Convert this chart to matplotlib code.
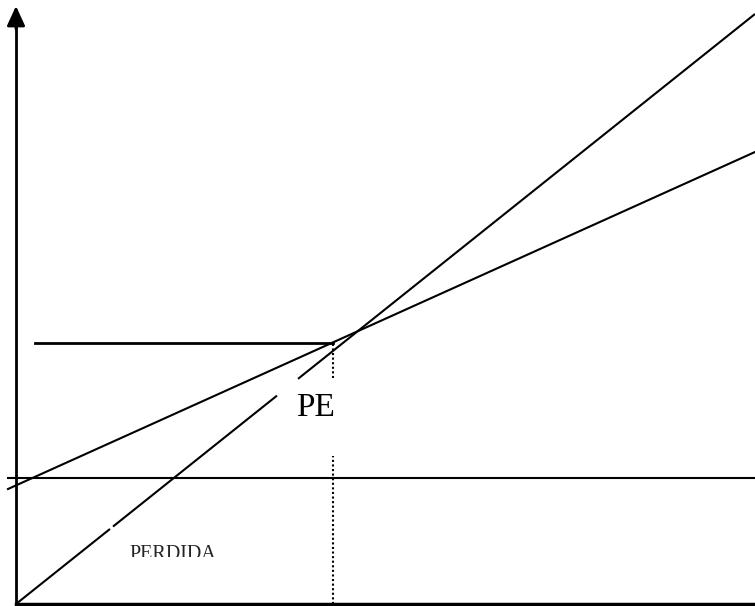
import matplotlib
matplotlib.use("Agg")
import matplotlib.pyplot as plt
from matplotlib.patches import Rectangle

# Diagram coordinates (origin at the axes corner)
revenue_x = [0, 739]
revenue_y = [0, 590]
revenue_gaps = [(94, 97), (261, 282)]   # x ranges where the line is interrupted
cost_x = [-8, 739]
cost_y = [115, 452]
fixed_x = [-8, 739]
fixed_y = [126, 126]
be_level_x = [19, 317]
be_level_y = [261, 261]
be_qty_x = 317
be_qty_segments = [(0, 148), (226, 261)]
label_pe = "PE"
label_loss = "PERDIDA"

fig = plt.figure(figsize=(7.55, 6.06), dpi=100)
ax = fig.add_axes([0, 0, 1, 1])
ax.set_xlim(-16, 739)
ax.set_ylim(-2, 604)
ax.axis("off")

lw = 1.5
# axes
ax.plot([0, 0], [0, 580], color="black", lw=2)
ax.plot([0, 739], [0, 0], color="black", lw=2.5)
ax.annotate("", xy=(0, 598), xytext=(0, 575),
            arrowprops=dict(arrowstyle="-|>,head_length=1.2,head_width=0.55",
                            color="black", lw=2, shrinkA=0, shrinkB=0))

# revenue line with gaps
slope = (revenue_y[1] - revenue_y[0]) / (revenue_x[1] - revenue_x[0])
start = revenue_x[0]
for g0, g1 in revenue_gaps + [(revenue_x[1], revenue_x[1])]:
    ax.plot([start, g0], [revenue_y[0] + slope * (start - revenue_x[0]),
                          revenue_y[0] + slope * (g0 - revenue_x[0])],
            color="black", lw=lw, solid_capstyle="butt")
    start = g1

ax.plot(cost_x, cost_y, color="black", lw=lw)
ax.plot(fixed_x, fixed_y, color="black", lw=lw)
ax.plot(be_level_x, be_level_y, color="black", lw=2)
for s0, s1 in be_qty_segments:
    ax.plot([be_qty_x, be_qty_x], [s0, s1], color="black", lw=1.5,
            linestyle=(0, (1, 1.2)))

ax.text(300, 196, label_pe, family="Liberation Serif", fontsize=24,
        ha="center", va="center", color="black")
t = ax.text(157, 45, label_loss, family="Liberation Serif", fontsize=14.5,
            ha="center", va="baseline", color="#222222")
clip = Rectangle((100, 47.5), 150, 30, transform=ax.transData)
t.set_clip_path(clip)
t.set_clip_on(True)

fig.savefig("out.png", dpi=100)
